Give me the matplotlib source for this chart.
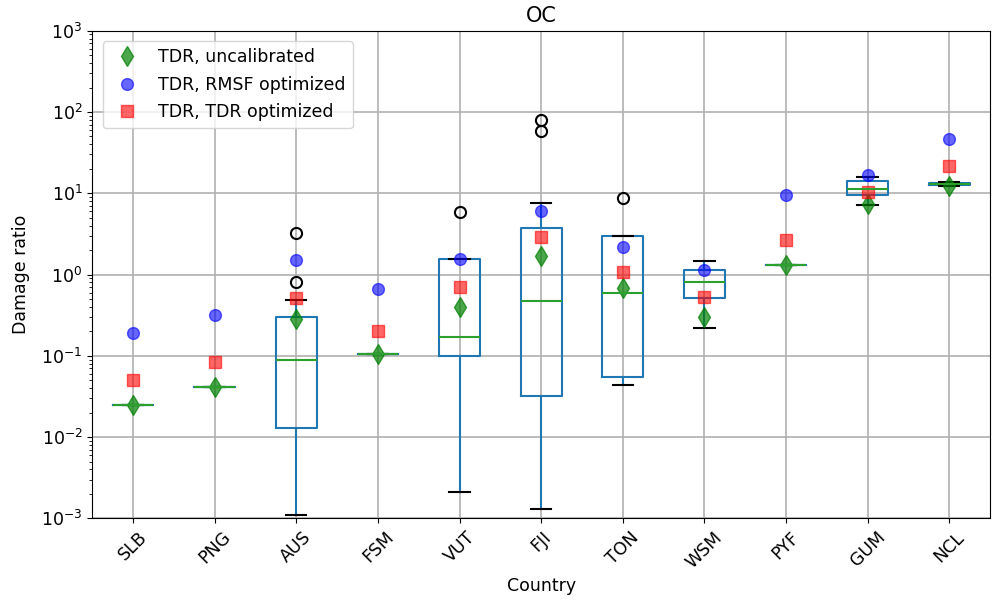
import matplotlib
matplotlib.use("Agg")
import matplotlib.pyplot as plt

# Boxplot summary per country
countries = ['SLB', 'PNG', 'AUS', 'FSM', 'VUT', 'FJI', 'TON', 'WSM', 'PYF', 'GUM', 'NCL']
med    = [0.025, 0.041, 0.089, 0.105, 0.17, 0.47, 0.60, 0.82, 1.3, 11.4, 12.9]
q1     = [0.025, 0.041, 0.013, 0.105, 0.098, 0.032, 0.055, 0.52, 1.3, 9.4, 12.6]
q3     = [0.025, 0.041, 0.30, 0.105, 1.55, 3.7, 2.95, 1.15, 1.3, 14.0, 13.3]
whislo = [0.025, 0.041, 0.0011, 0.105, 0.0021, 0.0013, 0.044, 0.22, 1.3, 7.1, 12.4]
whishi = [0.025, 0.041, 0.49, 0.105, 1.55, 7.5, 2.95, 1.45, 1.3, 16.0, 13.6]
fliers = [[], [], [0.8, 3.2], [], [5.8], [58, 80], [8.8], [], [], [], []]

# point estimates
tdr_uncal = [0.025, 0.041, 0.28, 0.105, 0.40, 1.7, 0.68, 0.30, 1.3, 7.3, 12.3]
tdr_rmsf  = [0.19, 0.32, 1.5, 0.66, 1.55, 6.0, 2.15, 1.15, 9.5, 17.0, 47.0]
tdr_tdr   = [0.051, 0.083, 0.51, 0.20, 0.70, 2.9, 1.08, 0.53, 2.65, 10.5, 21.5]

stats = []
for i, c in enumerate(countries):
    stats.append({'label': c, 'med': med[i], 'q1': q1[i], 'q3': q3[i],
                  'whislo': whislo[i], 'whishi': whishi[i], 'fliers': fliers[i]})

fig = plt.figure(figsize=(9.92, 6.02), dpi=100)
ax = fig.add_axes([0.093, 0.139, 0.905, 0.81])

pos = list(range(1, len(countries) + 1))
ax.bxp(stats, positions=pos, widths=0.5,
       boxprops=dict(color='C0', linewidth=1.5),
       whiskerprops=dict(color='C0', linewidth=1.5),
       capprops=dict(color='k', linewidth=1.5),
       medianprops=dict(color='C2', linewidth=1.5),
       flierprops=dict(marker='o', markerfacecolor='none', markeredgecolor='k',
                       markersize=8, markeredgewidth=1.5))

ax.plot(pos, tdr_uncal, 'd', color='green', alpha=0.7, markersize=10, label='TDR, uncalibrated')
ax.plot(pos, tdr_rmsf, 'o', color='blue', alpha=0.6, markersize=8.5, label='TDR, RMSF optimized')
ax.plot(pos, tdr_tdr, 's', color='red', alpha=0.6, markersize=8, label='TDR, TDR optimized')

ax.set_yscale('log')
ax.set_ylim(1e-3, 1e3)
ax.set_xlim(0.5, len(countries) + 0.5)
ax.grid(True, color='#b0b0b0', linewidth=1.2)
ax.set_axisbelow(True)
ax.set_xticks(pos)
ax.set_xticklabels(countries, rotation=45, fontsize=12.5)
ax.tick_params(axis='y', labelsize=12.5)
ax.set_xlabel('Country', fontsize=12.5)
ax.set_ylabel('Damage ratio', fontsize=12.5, labelpad=8)
ax.set_title('OC', fontsize=15)
ax.legend(loc='upper left', fontsize=12.5, labelspacing=0.55, handlelength=2.0,
          handletextpad=0.8, borderaxespad=0.6)

fig.savefig('out.png', dpi=100)
